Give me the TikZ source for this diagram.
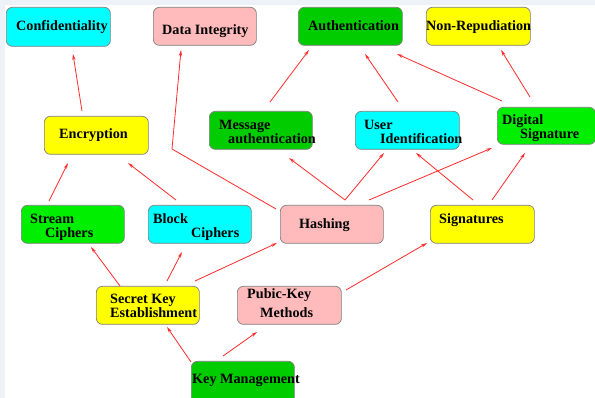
\documentclass[tikz,border=0pt]{standalone}
\usepackage{fontspec}
\setmainfont{Liberation Serif}
\usetikzlibrary{calc,arrows.meta}
\definecolor{cyanc}{HTML}{00FFFF}
\definecolor{pinkc}{HTML}{FFBBBB}
\definecolor{yellowc}{HTML}{FFFF00}
\definecolor{dgreenc}{HTML}{00CC00}
\definecolor{bgreenc}{HTML}{00EE00}
\definecolor{edgec}{HTML}{7F7F7F}
\definecolor{arrc}{HTML}{FF2A2A}
\definecolor{bgc}{HTML}{EDF1F8}
\begin{document}
\begin{tikzpicture}[x=1pt,y=-1pt,
  box/.style={draw=edgec,line width=0.7pt,rounded corners=6pt,anchor=north west,inner sep=0pt},
  txt/.style={anchor=base west,inner sep=0pt,font=\fontsize{14.2}{16}\selectfont\bfseries},
  arr/.style={draw=arrc,line width=0.8pt,-{Stealth[length=6pt,width=3.2pt]}}]
\useasboundingbox (0,0) rectangle (595,398);
\clip (0,0) rectangle (595,398);
\fill[bgc] (0,0) rectangle (595,398);
\fill[white] (5,5) rectangle (595,398);
% boxes
\node[box,fill=cyanc,minimum width=104pt,minimum height=39pt] (conf) at (6,7) {};
\node[box,fill=pinkc,minimum width=103pt,minimum height=38pt] (integ) at (153,7) {};
\node[box,fill=dgreenc,minimum width=104pt,minimum height=38pt] (auth) at (298,7) {};
\node[box,fill=yellowc,minimum width=104pt,minimum height=38pt] (nonrep) at (426,7) {};
\node[box,fill=yellowc,minimum width=104pt,minimum height=38pt] (enc) at (44,116) {};
\node[box,fill=dgreenc,minimum width=103pt,minimum height=38pt] (msg) at (209,111) {};
\node[box,fill=cyanc,minimum width=104pt,minimum height=38pt] (user) at (355,111) {};
\node[box,fill=bgreenc,minimum width=98pt,minimum height=37pt] (digsig) at (497,107) {};
\node[box,fill=bgreenc,minimum width=103pt,minimum height=38pt] (stream) at (21,205) {};
\node[box,fill=cyanc,minimum width=103pt,minimum height=38pt] (block) at (148,205) {};
\node[box,fill=pinkc,minimum width=103pt,minimum height=38pt] (hash) at (280,205) {};
\node[box,fill=yellowc,minimum width=104pt,minimum height=38pt] (sigs) at (430,205) {};
\node[box,fill=yellowc,minimum width=103pt,minimum height=38pt] (ske) at (96,286) {};
\node[box,fill=pinkc,minimum width=104pt,minimum height=38pt] (pub) at (237,286) {};
\node[box,fill=dgreenc,minimum width=103pt,minimum height=45pt] (km) at (191,361) {};
% texts
\node[txt] (conf-t) at (16,31) {Confidentiality};
\node[txt] (integ-t) at (162,35) {Data Integrity};
\node[txt] (auth-t) at (308,31) {Authentication};
\node[txt] (nonrep-t) at (426,31) {Non-Repudiation};
\node[txt] (enc-t) at (59,139) {Encryption};
\node[txt] (msg-t1) at (219,130) {Message};
\node[txt] (msg-t2) at (228,144) {authentication};
\node[txt] (user-t1) at (364,130) {User};
\node[txt] (user-t2) at (380,144) {Identification};
\node[txt] (digsig-t1) at (502,125) {Digital};
\node[txt] (digsig-t2) at (520,139) {Signature};
\node[txt] (stream-t1) at (30,224) {Stream};
\node[txt] (stream-t2) at (45,238) {Ciphers};
\node[txt] (block-t1) at (153,224) {Block};
\node[txt] (block-t2) at (191,238) {Ciphers};
\node[txt] (hash-t) at (299,229) {Hashing};
\node[txt] (sigs-t) at (439,224) {Signatures};
\node[txt] (ske-t1) at (110,304) {Secret Key};
\node[txt] (ske-t2) at (110,318) {Establishment};
\node[txt] (pub-t1) at (247,299) {Pubic-Key};
\node[txt] (pub-t2) at (260,318) {Methods};
\node[txt] (km-t) at (192,384) {Key Management};
% connectors
\draw[arr] ($(enc.north west)+(38,-5)$) -- ($(conf.north west)+(67,47)$);
\draw[arr] ($(stream.north west)+(28,-4)$) -- ($(enc.north west)+(24,47)$);
\draw[arr] ($(block.north west)+(28,-5)$) -- ($(enc.north west)+(84,47)$);
\draw[arr] ($(hash.north west)+(-4,4)$) -- ($(integ.north west)+(19,142)$) -- ($(integ.north west)+(28,43)$);
\draw[arr] ($(msg.north west)+(61,-9)$) -- ($(auth.north west)+(11,43)$);
\draw[arr] ($(user.north west)+(43,-9)$) -- ($(auth.north west)+(67,47)$);
\draw[arr] ($(digsig.north west)+(5,-6)$) -- ($(auth.north west)+(99,47)$);
\draw[arr] ($(digsig.north west)+(33,-10)$) -- ($(nonrep.north west)+(75,43)$);
\draw[arr] ($(hash.north west)+(65,-5)$) -- ($(msg.north west)+(80,47)$);
\draw[arr] ($(hash.north west)+(65,-5)$) -- ($(user.north west)+(29,42)$);
\draw[arr] ($(hash.north west)+(89,-5)$) -- ($(digsig.north west)+(-5,41)$);
\draw[arr] ($(sigs.north west)+(43,-5)$) -- ($(user.north west)+(61,42)$);
\draw[arr] ($(sigs.north west)+(62,-5)$) -- ($(digsig.north west)+(28,46)$);
\draw[arr] ($(ske.north west)+(24,0)$) -- ($(stream.north west)+(70,42)$);
\draw[arr] ($(ske.north west)+(71,-5)$) -- ($(block.north west)+(34,47)$);
\draw[arr] ($(ske.north west)+(99,-5)$) -- ($(hash.north west)+(-3,38)$);
\draw[arr] ($(km.north west)+(0,1)$) -- ($(ske.north west)+(71,41)$);
\draw[arr] ($(km.north west)+(32,-5)$) -- ($(pub.north west)+(20,46)$);
\draw[arr] ($(pub.north west)+(109,4)$) -- ($(sigs.north west)+(-3,38)$);
\end{tikzpicture}
\end{document}
